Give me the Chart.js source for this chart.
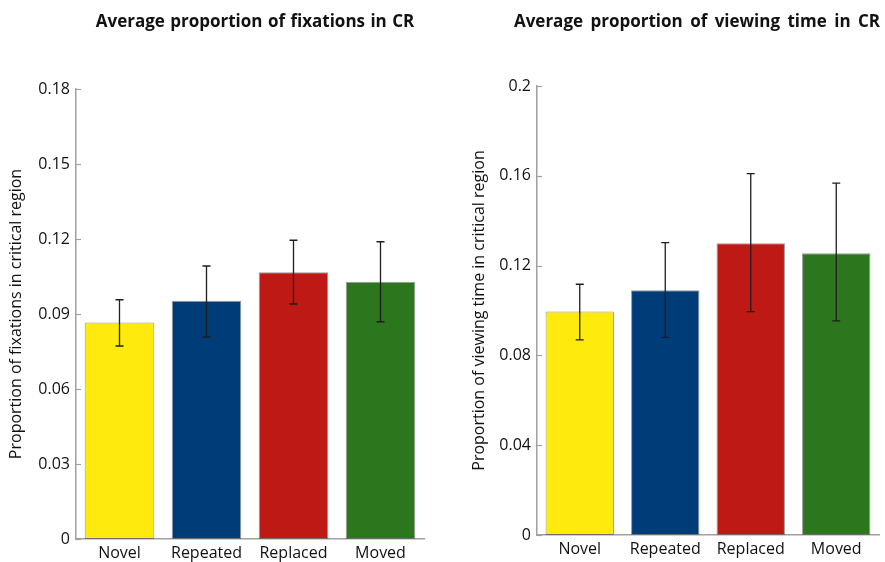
<!DOCTYPE html>
<html>
<head>
<meta charset="utf-8">
<script src="https://cdn.jsdelivr.net/npm/chart.js@4.4.1/dist/chart.umd.min.js"></script>
<style>
  html, body { margin: 0; padding: 0; background: #fff; }
  #wrap { position: relative; width: 885px; height: 562px; }
  #wrap canvas { position: absolute; left: 0; top: 0; }
</style>
</head>
<body>
<div id="wrap">
  <canvas id="fix" width="885" height="562"></canvas>
  <canvas id="view" width="885" height="562"></canvas>
</div>
<script>
// Conditions shared by both panels
const categories = ['Novel', 'Repeated', 'Replaced', 'Moved'];
const barColors = ['#FFEA0E', '#003C78', '#BE1914', '#2C771E'];

// Proportion of fixations in the critical region (mean and error-bar ends)
const fixMean = [0.0866, 0.0953, 0.1067, 0.1029];
const fixLow  = [0.0772, 0.0808, 0.0940, 0.0869];
const fixHigh = [0.0957, 0.1092, 0.1195, 0.1189];
const fixTicks = [0, 0.03, 0.06, 0.09, 0.12, 0.15, 0.18];
const fixTickLabels = ['0', '0.03', '0.06', '0.09', '0.12', '0.15', '0.18'];

// Proportion of viewing time in the critical region
const viewMean = [0.0995, 0.1090, 0.1300, 0.1255];
const viewLow  = [0.0869, 0.0880, 0.0995, 0.0954];
const viewHigh = [0.1117, 0.1302, 0.1610, 0.1567];
const viewTicks = [0, 0.04, 0.08, 0.12, 0.16, 0.2];
const viewTickLabels = ['0', '0.04', '0.08', '0.12', '0.16', '0.2'];

const FONT = "'Open Sans', 'DejaVu Sans', sans-serif";
const AXIS_GRAY = '#a0a0a0';

// Error bars, inward y tick marks and the panel heading
const panelExtras = {
  id: 'panelExtras',
  afterDatasetsDraw(chart, args, opts) {
    const ctx = chart.ctx;
    const y = chart.scales.y;
    const meta = chart.getDatasetMeta(0);
    ctx.save();
    ctx.strokeStyle = '#1e1e1e';
    ctx.lineWidth = 1.3;
    meta.data.forEach((bar, i) => {
      const yHi = y.getPixelForValue(opts.high[i]);
      const yLo = y.getPixelForValue(opts.low[i]);
      const x = bar.x;
      ctx.beginPath();
      ctx.moveTo(x, yHi); ctx.lineTo(x, yLo);
      ctx.moveTo(x - 4, yHi); ctx.lineTo(x + 4, yHi);
      ctx.moveTo(x - 4, yLo); ctx.lineTo(x + 4, yLo);
      ctx.stroke();
    });
    ctx.restore();
  },
  afterDraw(chart, args, opts) {
    const ctx = chart.ctx;
    const y = chart.scales.y;
    const left = chart.chartArea.left;
    ctx.save();
    ctx.strokeStyle = AXIS_GRAY;
    ctx.lineWidth = 1.2;
    y.ticks.forEach(t => {
      const py = Math.round(y.getPixelForValue(t.value)) + 0.5;
      ctx.beginPath();
      ctx.moveTo(left, py); ctx.lineTo(left + 5, py);
      ctx.stroke();
    });
    ctx.fillStyle = '#111';
    ctx.font = 'bold 17px ' + FONT;
    if ('wordSpacing' in ctx) ctx.wordSpacing = opts.wordSpacing;
    ctx.textAlign = 'center';
    ctx.textBaseline = 'middle';
    ctx.fillText(opts.title, opts.titleX, opts.titleY);
    ctx.restore();
  }
};

function makePanel(id, cfg) {
  return new Chart(document.getElementById(id), {
    type: 'bar',
    data: {
      labels: categories,
      datasets: [{
        data: cfg.mean,
        backgroundColor: barColors,
        borderColor: 'rgba(70,70,70,0.55)',
        borderWidth: 1,
        borderSkipped: false,
        barPercentage: 0.8,
        categoryPercentage: 1.0
      }]
    },
    options: {
      responsive: false,
      animation: false,
      events: [],
      layout: { padding: cfg.padding },
      plugins: {
        legend: { display: false },
        tooltip: { enabled: false },
        panelExtras: {
          low: cfg.low, high: cfg.high,
          title: cfg.title, titleX: cfg.titleX, titleY: cfg.titleY,
          wordSpacing: cfg.wordSpacing
        }
      },
      scales: {
        x: {
          grid: { display: false, drawTicks: false },
          border: { display: true, color: AXIS_GRAY, width: 1.5 },
          ticks: { color: '#111', font: { family: FONT, size: 16 }, padding: 5, maxRotation: 0 },
          afterFit: s => { s.height = cfg.xHeight; }
        },
        y: {
          min: cfg.ticks[0],
          max: cfg.ticks[cfg.ticks.length - 1],
          grid: { display: false, drawTicks: false },
          border: { display: true, color: AXIS_GRAY, width: 1.5 },
          afterBuildTicks: s => { s.ticks = cfg.ticks.map(v => ({ value: v })); },
          ticks: {
            color: '#111',
            font: { family: FONT, size: 16 },
            padding: 6,
            callback: (v, i) => cfg.tickLabels[i]
          },
          title: {
            display: true,
            text: cfg.yTitle,
            color: '#111',
            font: { family: FONT, size: 16 },
            padding: { top: 7, bottom: 0 }
          },
          afterFit: s => { s.width = cfg.yWidth; }
        }
      }
    },
    plugins: [panelExtras]
  });
}

makePanel('fix', {
  mean: fixMean, low: fixLow, high: fixHigh,
  ticks: fixTicks, tickLabels: fixTickLabels,
  yTitle: 'Proportion of fixations in critical region',
  title: 'Average proportion of fixations in CR',
  titleX: 255, titleY: 22, wordSpacing: '1px',
  padding: { left: 0, right: 461, top: 89, bottom: 0 },
  yWidth: 76, xHeight: 23
});

makePanel('view', {
  mean: viewMean, low: viewLow, high: viewHigh,
  ticks: viewTicks, tickLabels: viewTickLabels,
  yTitle: 'Proportion of viewing time in critical region',
  title: 'Average proportion of viewing time in CR',
  titleX: 697, titleY: 22, wordSpacing: '3px',
  padding: { left: 463, right: 6, top: 86, bottom: 0 },
  yWidth: 74, xHeight: 27
});
</script>
</body>
</html>
